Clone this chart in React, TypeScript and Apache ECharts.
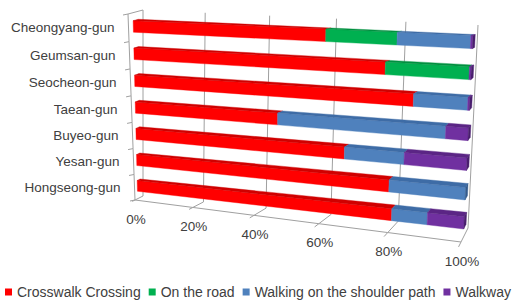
import React, { useEffect, useRef } from "react";
import * as echarts from "echarts";

// ---------- data ----------
const categories = [
  "Cheongyang-gun",
  "Geumsan-gun",
  "Seocheon-gun",
  "Taean-gun",
  "Buyeo-gun",
  "Yesan-gun",
  "Hongseong-gun",
];
const seriesNames = [
  "Crosswalk Crossing",
  "On the road",
  "Walking on the shoulder path",
  "Walkway",
];
const crosswalkCrossing = [60, 77, 85, 46, 66, 79, 80];
const onTheRoad = [20, 22.5, 0, 0, 0, 0, 0];
const shoulderPath = [19.5, 0, 14.5, 48, 17, 21, 10];
const walkway = [0.5, 0.5, 0.5, 6, 17, 0, 10];
const valueTicks = [0, 20, 40, 60, 80, 100];
const tickLabels = valueTicks.map((t) => `${t}%`);

// ---------- style ----------
const COLORS = ["#ff0000", "#00b050", "#4f81bd", "#7030a0"];
const TOP_COLORS = ["#d00000", "#00903f", "#3e6ca6", "#5b2585"];
const CAP_COLORS = ["#a80000", "#007533", "#335a8c", "#4a1e6e"];
const LINE = "#a0a0a0";
const TEXT = "#404040";
const FONT = "Liberation Sans";

type Pt = [number, number];
// projected corners of the chart box (front plane and back plane): TL, TR, BR, BL
const FRONT_PLANE: Pt[] = [
  [128, 14],
  [471, 27],
  [461, 242],
  [135, 200],
];
const BACK_PLANE: Pt[] = [
  [143, 10],
  [478, 25],
  [468, 228],
  [143, 196],
];
const HH = 0.03; // half bar height (wall units)
const ZF = 0.33; // bar front depth
const ZB = 0.67; // bar back depth

function homography(q: Pt[]) {
  const [[x0, y0], [x1, y1], [x2, y2], [x3, y3]] = q;
  const dx1 = x1 - x2, dy1 = y1 - y2, dx2 = x3 - x2, dy2 = y3 - y2;
  const dx3 = x0 - x1 + x2 - x3, dy3 = y0 - y1 + y2 - y3;
  const den = dx1 * dy2 - dx2 * dy1;
  const g = (dx3 * dy2 - dx2 * dy3) / den;
  const h = (dx1 * dy3 - dx3 * dy1) / den;
  const a = x1 - x0 + g * x1, b = x3 - x0 + h * x3, c = x0;
  const d = y1 - y0 + g * y1, e = y3 - y0 + h * y3, f = y0;
  return (u: number, v: number): Pt => {
    const w = g * u + h * v + 1;
    return [(a * u + b * v + c) / w, (d * u + e * v + f) / w];
  };
}
const hf = homography(FRONT_PLANE);
const hb = homography(BACK_PLANE);
function P(u: number, v: number, z: number): Pt {
  const a = hf(u, v);
  const b = hb(u, v);
  return [a[0] + (b[0] - a[0]) * z, a[1] + (b[1] - a[1]) * z];
}

function poly(points: Pt[], fill: string) {
  return {
    type: "polygon",
    shape: { points },
    style: { fill, stroke: fill, lineWidth: 0.4 },
  };
}
function line(p: Pt, q: Pt, stroke = LINE) {
  return {
    type: "line",
    shape: { x1: p[0], y1: p[1], x2: q[0], y2: q[1] },
    style: { stroke, lineWidth: 1 },
  };
}
function text(x: number, y: number, t: string, align: string, size: number) {
  return {
    type: "text",
    x,
    y,
    style: {
      text: t,
      fill: TEXT,
      fontFamily: FONT,
      fontSize: size,
      align,
      textAlign: align,
      verticalAlign: "middle",
      textVerticalAlign: "middle",
    },
  };
}

const seriesValues = [crosswalkCrossing, onTheRoad, shoulderPath, walkway];

function buildOption() {
  const cumulative = categories.map(() => 0);
  const barSeries = seriesValues.map((vals, si) => {
    const data = vals.map((v, j) => {
      const s = cumulative[j];
      cumulative[j] += v;
      return [s, s + v, j];
    });
    return {
      type: "custom",
      name: seriesNames[si],
      z: 5,
      itemStyle: { color: COLORS[si] },
      encode: { x: [0, 1], y: 2 },
      data,
      renderItem: (params: any, api: any) => {
        const start = api.value(0);
        const end = api.value(1);
        const j = api.value(2);
        if (end - start <= 0) return null;
        const cs = params.coordSys;
        const a = api.coord([start, j]);
        const b = api.coord([end, j]);
        const u0 = (a[0] - cs.x) / cs.width;
        const u1 = (b[0] - cs.x) / cs.width;
        const vc = (a[1] - cs.y) / cs.height;
        const vt = vc - HH;
        const vb = vc + HH;
        const children: any[] = [
          poly([P(u0, vt, ZF), P(u1, vt, ZF), P(u1, vb, ZF), P(u0, vb, ZF)], COLORS[si]),
          poly([P(u0, vt, ZF), P(u1, vt, ZF), P(u1, vt, ZB), P(u0, vt, ZB)], TOP_COLORS[si]),
        ];
        if (end >= 99.999) {
          children.push(
            poly([P(u1, vt, ZF), P(u1, vt, ZB), P(u1, vb, ZB), P(u1, vb, ZF)], CAP_COLORS[si])
          );
        }
        return { type: "group", children };
      },
    };
  });

  const valueFrame = {
    type: "custom",
    name: "__valueAxis",
    z: 1,
    silent: true,
    encode: { x: 0, y: 1 },
    data: valueTicks.map((t) => [t, 0]),
    renderItem: (params: any, api: any) => {
      const cs = params.coordSys;
      const idx = params.dataIndex;
      const p = api.coord([api.value(0), 0]);
      const u = (p[0] - cs.x) / cs.width;
      const children: any[] = [
        line(P(u, 0, 1), P(u, 1, 1)),
        line(P(u, 1, 1), P(u, 1, 0)),
        line(P(u, 1, 0), P(u, 1, -0.35)),
      ];
      if (idx < valueTicks.length - 1) {
        const q = api.coord([valueTicks[idx + 1], 0]);
        const u2 = (q[0] - cs.x) / cs.width;
        children.push(line(P(u, 1, 0), P(u2, 1, 0)));
      }
      const lp = P(u, 1, 0);
      children.push(text(lp[0] + 1, lp[1] + 19, tickLabels[idx], "center", 13.5));
      return { type: "group", children };
    },
  };

  const categoryFrame = {
    type: "custom",
    name: "__categoryAxis",
    z: 1,
    silent: true,
    encode: { x: 0, y: 1 },
    data: categories.map((c, j) => [0, j]),
    renderItem: (params: any, api: any) => {
      const cs = params.coordSys;
      const j = params.dataIndex;
      const n = categories.length;
      const p = api.coord([0, api.value(1)]);
      const v = (p[1] - cs.y) / cs.height;
      const v0 = j / n;
      const v1 = (j + 1) / n;
      const t0 = P(0, v0, 0);
      const t1 = P(0, v1, 0);
      const children: any[] = [
        line(t0, t1),
        line(t0, [t0[0] - 5, t0[1] + 1]),
      ];
      if (j === 0) children.push(line(t0, P(0, 0, 1)));
      if (j === n - 1) children.push(line(t1, [t1[0] - 5, t1[1] + 1]));
      const lp = P(0, v, 0);
      children.push(text(lp[0] - 14, lp[1], categories[j], "right", 13.5));
      return { type: "group", children };
    },
  };

  return {
    animation: false,
    grid: { left: 0, right: 0, top: 0, bottom: 0 },
    xAxis: { type: "value", min: 0, max: 100, show: false },
    yAxis: { type: "category", data: categories, inverse: true, show: false },
    legend: {
      data: seriesNames,
      left: 5,
      top: 285,
      padding: 0,
      icon: "rect",
      itemWidth: 7,
      itemHeight: 7,
      itemGap: 8,
      textStyle: { fontFamily: FONT, fontSize: 14, color: TEXT },
    },
    series: [valueFrame, categoryFrame, ...barSeries],
  };
}

export default function App() {
  const ref = useRef<HTMLDivElement>(null);
  useEffect(() => {
    document.body.style.margin = "0";
    if (!ref.current) return;
    const chart = echarts.init(ref.current, undefined, { renderer: "svg" });
    chart.setOption(buildOption() as any);
    return () => chart.dispose();
  }, []);
  return (
    <div
      ref={ref}
      style={{ position: "fixed", left: 0, top: 0, width: 514, height: 300, background: "#fff" }}
    />
  );
}
